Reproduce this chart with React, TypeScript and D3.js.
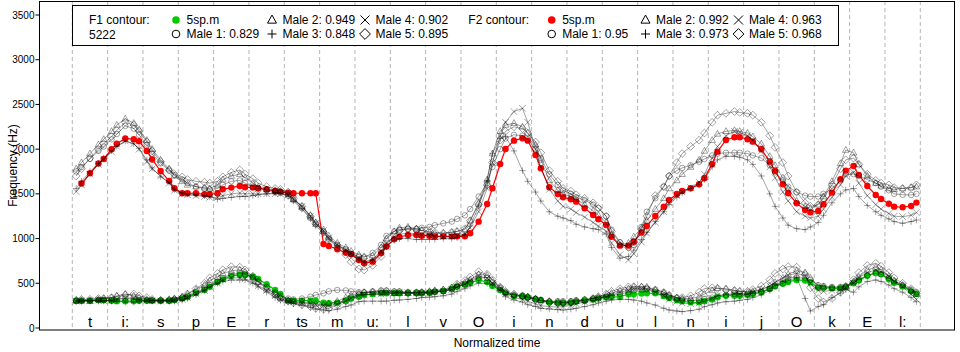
import * as d3 from 'd3';

// segment labels along the normalized time axis
const phonemes = ['t', 'i:', 's', 'p', 'E', 'r', 'ts', 'm', 'u:', 'l', 'v', 'O', 'i', 'n', 'd', 'u', 'l', 'n', 'i', 'j', 'O', 'k', 'E', 'l:'];
// where the 5 samples of each segment sit inside it
const slotFractions = [0.11, 0.26, 0.5, 0.74, 0.89];
const yTicks = [0, 500, 1000, 1500, 2000, 2500, 3000, 3500];

const f1Scores = [0.829, 0.949, 0.848, 0.902, 0.895];
const f2Scores = [0.95, 0.992, 0.973, 0.963, 0.968];

// F2 contour (Hz), 5 values per segment
const f2Ref = [
  [null, 1615, 1730, 1840, 1890], [1999, 2060, 2120, 2110, 2088], [1980, 1885, 1755, 1645, 1563], [1507, 1507, 1507, 1495, 1495],
  [1507, 1551, 1570, 1588, 1574], [1570, 1563, 1551, 1532, 1525], [1514, 1507, 1507, 1507, 1507], [940, 917, 880, 842, 824],
  [761, 724, 742, 836, 910], [992, 1018, 1040, 1040, 1032], [1032, 1025, 1025, 1025, 1025], [1025, 1059, 1189, 1387, 1563],
  [1834, 2002, 2095, 2122, 2095], [1935, 1786, 1574, 1499, 1462], [1440, 1413, 1339, 1264, 1216], [1152, 1021, 921, 921, 965],
  [1066, 1141, 1253, 1357, 1432], [1499, 1532, 1563, 1607, 1674], [1834, 1972, 2103, 2133, 2133], [2111, 2084, 1999, 1860, 1756],
  [1607, 1507, 1395, 1320, 1294], [1309, 1384, 1514, 1663, 1760], [1812, 1711, 1588, 1488, 1443], [1390, 1357, 1350, 1365, 1402],
];
const f2Male1 = [
  [1750, 1800, 1890, 1980, 2030], [2110, 2170, 2260, 2230, 2160], [2050, 1950, 1840, 1760, 1710], [1660, 1620, 1580, 1560, 1550],
  [1560, 1600, 1640, 1650, 1620], [1580, 1560, 1540, 1520, 1510], [1480, 1430, 1340, 1230, 1160], [1080, 1000, 930, 880, 830],
  [800, 790, 840, 930, 1030], [1080, 1100, 1110, 1110, 1120], [1130, 1150, 1170, 1190, 1220], [1260, 1330, 1470, 1620, 1800],
  [2000, 2120, 2160, 2150, 2110], [2000, 1900, 1720, 1600, 1540], [1500, 1460, 1430, 1380, 1340], [1250, 1100, 960, 900, 930],
  [1130, 1300, 1450, 1580, 1700], [1760, 1790, 1820, 1860, 1890], [1930, 1950, 1960, 1960, 1960], [1950, 1930, 1900, 1820, 1740],
  [1650, 1580, 1520, 1480, 1470], [1470, 1500, 1560, 1650, 1720], [1720, 1700, 1660, 1620, 1580], [1540, 1500, 1490, 1488, 1500],
];
const f2Male2 = [
  [1780, 1850, 1950, 2050, 2110], [2200, 2270, 2340, 2290, 2220], [2100, 2000, 1880, 1780, 1700], [1640, 1600, 1580, 1570, 1560],
  [1600, 1660, 1700, 1720, 1680], [1620, 1580, 1550, 1540, 1530], [1500, 1440, 1360, 1260, 1180], [1100, 1030, 950, 900, 860],
  [820, 800, 810, 900, 1000], [1080, 1120, 1130, 1110, 1090], [1070, 1060, 1060, 1070, 1080], [1100, 1200, 1400, 1660, 1950],
  [2200, 2270, 2290, 2250, 2180], [2050, 1880, 1650, 1540, 1500], [1470, 1440, 1380, 1310, 1260], [1180, 1040, 930, 950, 1020],
  [1120, 1200, 1330, 1450, 1560], [1650, 1720, 1800, 1880, 1980], [2100, 2170, 2200, 2210, 2200], [2180, 2140, 2060, 1920, 1820],
  [1680, 1560, 1420, 1360, 1340], [1380, 1470, 1640, 1840, 1990], [1960, 1830, 1700, 1620, 1590], [1560, 1550, 1560, 1570, 1580],
];
const f2Male3 = [
  [1560, 1640, 1750, 1840, 1900], [1980, 2030, 2090, 2060, 2010], [1880, 1790, 1690, 1630, 1550], [1510, 1500, 1490, 1480, 1470],
  [1440, 1450, 1460, 1470, 1470], [1480, 1490, 1500, 1510, 1510], [1470, 1420, 1330, 1220, 1140], [1060, 990, 920, 860, 820],
  [760, 730, 760, 840, 920], [980, 1000, 1000, 990, 990], [990, 990, 1000, 1000, 1010], [1040, 1140, 1360, 1650, 1950],
  [2120, 2140, 1980, 1760, 1640], [1520, 1420, 1300, 1250, 1230], [1200, 1160, 1130, 1110, 1100], [1050, 900, 780, 800, 870],
  [990, 1070, 1190, 1300, 1380], [1460, 1510, 1560, 1600, 1660], [1800, 1880, 1920, 1920, 1910], [1880, 1830, 1700, 1500, 1360],
  [1230, 1150, 1110, 1100, 1130], [1180, 1260, 1400, 1500, 1544], [1560, 1470, 1370, 1300, 1260], [1220, 1190, 1171, 1190, 1208],
];
const f2Male4 = [
  [1525, 1600, 1720, 1830, 1890], [1970, 2030, 2090, 2060, 2000], [1860, 1780, 1700, 1620, 1540], [1500, 1490, 1480, 1470, 1460],
  [1460, 1480, 1500, 1510, 1500], [1500, 1500, 1500, 1500, 1500], [1490, 1440, 1360, 1250, 1170], [1090, 1010, 930, 870, 840],
  [780, 740, 770, 860, 950], [1020, 1050, 1060, 1050, 1040], [1030, 1020, 1020, 1020, 1030], [1050, 1120, 1300, 1560, 1850],
  [2150, 2300, 2420, 2457, 2300], [2000, 1800, 1550, 1420, 1360], [1330, 1290, 1240, 1180, 1140], [1080, 950, 820, 761, 830],
  [960, 1060, 1180, 1300, 1400], [1480, 1520, 1570, 1630, 1720], [1900, 2030, 2150, 2200, 2190], [2150, 2100, 1980, 1800, 1680],
  [1520, 1420, 1300, 1250, 1230], [1250, 1330, 1460, 1600, 1700], [1740, 1620, 1480, 1380, 1330], [1280, 1250, 1245, 1260, 1290],
];
const f2Male5 = [
  [1700, 1780, 1900, 2000, 2060], [2140, 2210, 2300, 2270, 2200], [2080, 1980, 1860, 1770, 1720], [1690, 1660, 1640, 1630, 1620],
  [1640, 1690, 1740, 1767, 1720], [1670, 1620, 1580, 1560, 1550], [1520, 1450, 1360, 1250, 1170], [1070, 990, 900, 820, 740],
  [660, 649, 700, 800, 920], [1040, 1090, 1110, 1100, 1090], [1080, 1070, 1060, 1070, 1080], [1110, 1200, 1380, 1600, 1850],
  [2100, 2200, 2250, 2230, 2180], [2080, 1960, 1760, 1640, 1560], [1530, 1490, 1450, 1400, 1340], [1250, 1080, 950, 900, 960],
  [1100, 1250, 1480, 1580, 1700], [1850, 1950, 2030, 2100, 2180], [2300, 2380, 2400, 2420, 2410], [2400, 2380, 2300, 2150, 2020],
  [1850, 1700, 1520, 1400, 1360], [1380, 1450, 1600, 1780, 1880], [1900, 1830, 1720, 1650, 1620], [1600, 1570, 1560, 1570, 1600],
];

// F1 contour (Hz)
const f1Ref = [
  [305, 305, 305, 313, 313], [305, 300, 300, 300, 305], [305, 305, 305, 305, 313], [330, 345, 390, 425, 460],
  [515, 544, 582, 593, 593], [574, 548, 489, 425, 380], [305, 305, 305, 305, 305], [283, 276, 283, 305, 330],
  [350, 369, 377, 388, 388], [388, 388, 388, 388, 388], [395, 406, 414, 440, 465], [485, 505, 537, 513, 470],
  [425, 390, 358, 358, 345], [325, 313, 287, 280, 276], [283, 295, 305, 320, 330], [343, 346, 350, 377, 377],
  [385, 388, 388, 358, 336], [310, 298, 287, 287, 300], [320, 345, 361, 361, 361], [368, 380, 399, 435, 465],
  [495, 515, 537, 530, 510], [451, 451, 444, 444, 458], [500, 530, 585, 619, 600], [545, 505, 465, 410, 380],
];
const f1Male1 = [
  [300, 300, 310, 310, 310], [310, 320, 330, 320, 310], [310, 310, 310, 310, 320], [340, 360, 400, 440, 480],
  [520, 560, 600, 610, 600], [560, 520, 460, 400, 360], [330, 320, 330, 350, 370], [388, 410, 425, 420, 410],
  [400, 400, 410, 420, 420], [410, 410, 400, 400, 400], [400, 405, 410, 430, 460], [490, 520, 560, 560, 510],
  [450, 400, 370, 350, 340], [320, 310, 300, 300, 300], [300, 310, 320, 330, 340], [350, 360, 380, 400, 420],
  [430, 440, 430, 400, 370], [340, 320, 310, 310, 320], [340, 360, 370, 380, 380], [380, 390, 410, 440, 470],
  [500, 530, 560, 560, 540], [480, 470, 460, 460, 470], [510, 540, 590, 610, 600], [560, 520, 480, 430, 400],
];
const f1Male2 = [
  [310, 310, 300, 320, 330], [340, 360, 380, 360, 340], [320, 310, 310, 320, 330], [350, 380, 430, 480, 530],
  [570, 610, 640, 650, 630], [570, 510, 440, 380, 340], [310, 300, 290, 280, 270], [260, 270, 300, 340, 370],
  [390, 400, 400, 400, 400], [390, 390, 390, 395, 400], [410, 420, 430, 450, 480], [510, 540, 600, 590, 530],
  [450, 400, 370, 360, 350], [330, 310, 300, 290, 285], [290, 300, 310, 330, 345], [370, 390, 420, 440, 460],
  [462, 460, 430, 400, 370], [340, 330, 330, 350, 380], [420, 444, 440, 420, 410], [400, 410, 430, 470, 510],
  [560, 600, 640, 620, 560], [470, 460, 450, 450, 470], [520, 570, 650, 680, 650], [580, 530, 480, 420, 380],
];
const f1Male3 = [
  [300, 300, 300, 300, 300], [300, 300, 290, 290, 300], [300, 300, 300, 300, 300], [310, 330, 370, 420, 460],
  [500, 520, 537, 537, 537], [500, 460, 400, 340, 310], [290, 270, 250, 230, 210], [200, 194, 210, 240, 257],
  [294, 300, 300, 300, 300], [310, 313, 320, 330, 340], [345, 350, 360, 380, 410], [440, 470, 500, 500, 480],
  [420, 350, 313, 290, 260], [240, 220, 213, 205, 201], [210, 220, 240, 260, 280], [300, 313, 320, 320, 313],
  [300, 280, 257, 220, 201], [190, 183, 194, 210, 238], [260, 280, 294, 300, 310], [320, 340, 370, 420, 480],
  [520, 560, 570, 330, 190], [240, 262, 340, 390, 430], [400, 460, 520, 537, 520], [480, 440, 400, 340, 294],
];
const f1Male4 = [
  [300, 305, 305, 310, 305], [310, 320, 340, 330, 320], [310, 305, 300, 305, 310], [320, 340, 380, 420, 460],
  [500, 540, 560, 560, 550], [510, 470, 420, 360, 320], [300, 290, 280, 270, 260], [250, 250, 270, 300, 330],
  [360, 370, 380, 380, 390], [390, 395, 395, 390, 390], [390, 400, 410, 430, 460], [490, 530, 580, 560, 500],
  [430, 380, 340, 320, 300], [270, 250, 240, 235, 240], [250, 270, 290, 310, 330], [350, 370, 400, 420, 440],
  [440, 430, 400, 360, 320], [300, 280, 270, 280, 300], [330, 360, 380, 380, 380], [380, 400, 430, 470, 510],
  [560, 590, 610, 580, 500], [420, 410, 420, 430, 450], [500, 560, 620, 650, 630], [580, 520, 460, 380, 320],
];
const f1Male5 = [
  [310, 320, 320, 330, 330], [340, 350, 370, 380, 360], [340, 320, 310, 310, 320], [340, 380, 440, 500, 560],
  [610, 650, 686, 680, 650], [580, 520, 450, 380, 330], [300, 280, 260, 240, 220], [210, 220, 260, 300, 340],
  [370, 390, 400, 410, 410], [400, 400, 395, 395, 395], [400, 410, 420, 450, 490], [530, 570, 630, 600, 540],
  [460, 410, 380, 360, 345], [320, 300, 290, 285, 285], [290, 300, 310, 330, 350], [380, 410, 440, 460, 462],
  [455, 440, 410, 380, 350], [330, 340, 360, 400, 440], [450, 444, 430, 420, 410], [410, 430, 470, 540, 610],
  [660, 686, 680, 600, 450], [330, 290, 330, 400, 450], [540, 620, 700, 723, 690], [620, 560, 500, 440, 390],
];

const W = 960;
const H = 352;
const FONT = "'Liberation Sans', Arial, sans-serif";
const GRAY = 'rgba(0,0,0,0.36)';
const SHAPES = ['circle', 'triangle', 'plus', 'cross', 'diamond'];

const x = d3.scaleLinear().domain([0, phonemes.length]).range([72.3, 920.3]);
const y = d3.scaleLinear().domain([0, 3500]).range([328, 15]);
const times = phonemes.flatMap((_, k) => slotFractions.map(f => k + f));

const toPoints = (rows: (number | null)[][]) =>
  rows.flat().map((v, i) => ({ t: times[i], v }));

const line = d3.line<{ t: number; v: number | null }>()
  .defined(d => d.v != null)
  .x(d => x(d.t))
  .y(d => y(d.v as number));

function Marker({ shape, cx, cy, s, color, fill = 'none' }: any) {
  const h = s / 2;
  if (shape === 'circle') return <circle cx={cx} cy={cy} r={h * 0.85} fill={fill} stroke={color} />;
  if (shape === 'triangle')
    return <path d={`M${cx},${cy - h * 1.1}L${cx + h},${cy + h * 0.7}L${cx - h},${cy + h * 0.7}Z`} fill="none" stroke={color} />;
  if (shape === 'plus') return <path d={`M${cx - h},${cy}H${cx + h}M${cx},${cy - h}V${cy + h}`} stroke={color} />;
  if (shape === 'cross')
    return <path d={`M${cx - h},${cy - h}L${cx + h},${cy + h}M${cx - h},${cy + h}L${cx + h},${cy - h}`} stroke={color} />;
  return <path d={`M${cx},${cy - h * 1.2}L${cx + h * 1.2},${cy}L${cx},${cy + h * 1.2}L${cx - h * 1.2},${cy}Z`} fill="none" stroke={color} />;
}

function Contour({ ref: refRows, males, color }: any) {
  const refPts = toPoints(refRows);
  return (
    <g>
      <path d={line(refPts) || ''} fill="none" stroke={color} strokeWidth={1.2} />
      {refPts.filter(p => p.v != null).map((p, i) => (
        <circle key={i} cx={x(p.t)} cy={y(p.v as number)} r={3.2} fill={color} />
      ))}
      {males.map((rows: number[][], m: number) => {
        const pts = toPoints(rows);
        return (
          <g key={m}>
            <path d={line(pts) || ''} fill="none" stroke={GRAY} strokeWidth={1} />
            {pts.map((p, i) => (
              <Marker key={i} shape={SHAPES[m]} cx={x(p.t)} cy={y(p.v as number)} s={6.5} color={GRAY} />
            ))}
          </g>
        );
      })}
    </g>
  );
}

function LegendBlock({ left, title, subtitle, color, scores, symX }: any) {
  const rows = [20, 34];
  const entries = [
    { label: '5sp.m', shape: 'dot' },
    ...scores.map((s: number, i: number) => ({ label: `Male ${i + 1}: ${s}`, shape: SHAPES[i] })),
  ];
  return (
    <g fontSize={12} fontFamily={FONT}>
      <text x={left} y={24}>{title}</text>
      {subtitle && <text x={left} y={38.5}>{subtitle}</text>}
      {entries.map((e, i) => {
        const cx = symX[Math.floor(i / 2)];
        const cy = rows[i % 2];
        return (
          <g key={i}>
            {e.shape === 'dot'
              ? <circle cx={cx} cy={cy} r={3.8} fill={color} />
              : <Marker shape={e.shape} cx={cx} cy={cy} s={9} color="#000" />}
            <text x={cx + 10.5} y={cy + 4.3}>{e.label}</text>
          </g>
        );
      })}
    </g>
  );
}

export default function App() {
  const bounds = d3.range(phonemes.length + 1);
  return (
    <svg width={W} height={H} style={{ position: 'absolute', left: 0, top: 0, background: '#fff' }}>
      <rect width={W} height={H} fill="#fff" />
      {bounds.map(b => (
        <line key={b} x1={x(b)} x2={x(b)} y1={1} y2={330} stroke="#b4b4b4" strokeDasharray="4,3" />
      ))}
      <Contour ref={f2Ref} males={[f2Male1, f2Male2, f2Male3, f2Male4, f2Male5]} color="#ff0000" />
      <Contour ref={f1Ref} males={[f1Male1, f1Male2, f1Male3, f1Male4, f1Male5]} color="#00cc00" />

      {phonemes.map((p, k) => (
        <text key={k} x={x(k + 0.5)} y={327} textAnchor="middle" fontSize={15} fontFamily={FONT}>{p}</text>
      ))}

      <rect x={72.5} y={5.5} width={766} height={40} fill="#fff" stroke="#000" />
      <LegendBlock left={89} title="F1 contour:" subtitle="5222" color="#00cc00" scores={f1Scores} symX={[176, 272, 365]} />
      <LegendBlock left={468.3} title="F2 contour:" color="#ff0000" scores={f2Scores} symX={[551.7, 645.5, 738.5]} />

      <rect x={39.5} y={1.5} width={915} height={328.5} fill="none" stroke="#000" />
      {yTicks.map(t => (
        <g key={t}>
          <line x1={35.5} x2={39.5} y1={y(t)} y2={y(t)} stroke="#000" />
          <text x={34.5} y={y(t) + 3.6} textAnchor="end" fontSize={10} fontFamily={FONT}>{t}</text>
        </g>
      ))}
      <text transform="translate(16.5,165.5) rotate(-90)" textAnchor="middle" fontSize={12} fontFamily={FONT}>Frequency (Hz)</text>
      <text x={497} y={346.5} textAnchor="middle" fontSize={12} fontFamily={FONT}>Normalized time</text>
    </svg>
  );
}
